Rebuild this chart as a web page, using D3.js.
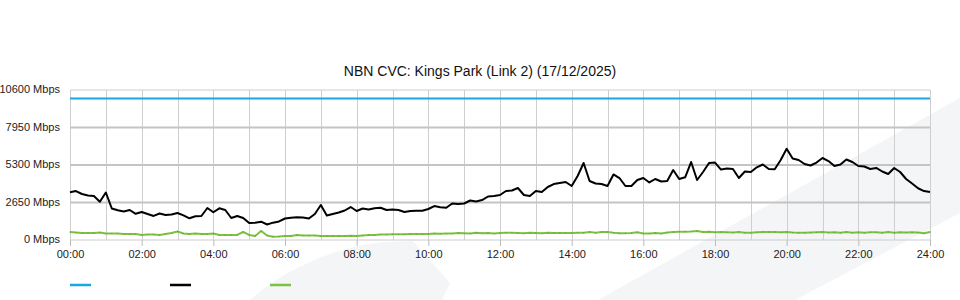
<!DOCTYPE html>
<html>
<head>
<meta charset="utf-8">
<script src="https://cdn.jsdelivr.net/npm/d3@7"></script>
<style>
html,body{margin:0;padding:0;background:#fff;}
svg{display:block;font-family:"Liberation Sans",Arial,sans-serif;}
</style>
</head>
<body>
<svg id="chart" width="960" height="300"></svg>
<script>
// ---- data ----
const title = "NBN CVC: Kings Park (Link 2) (17/12/2025)";
const yTicks = [0, 2650, 5300, 7950, 10600];
const xTickHours = [0, 2, 4, 6, 8, 10, 12, 14, 16, 18, 20, 22, 24];
const stepMinutes = 10;
const capacity = 10000;
const traffic = [3370,3460,3250,3145,3110,2705,3355,2225,2100,2015,2120,1850,1980,1840,1700,1870,1765,1800,1910,1745,
1535,1675,1695,2260,1960,2240,2120,1555,1695,1555,1200,1215,1295,1095,1225,1310,1520,1575,1605,1590,
1520,1840,2475,1730,1840,1945,2085,2330,2050,2225,2155,2240,2280,2120,2155,2120,1980,2050,2070,2070,
2190,2400,2310,2280,2580,2545,2580,2790,2720,2825,3075,3110,3180,3460,3500,3675,3180,3110,3460,3390,
3745,3955,4030,4100,3815,4520,5440,4170,3990,3955,3815,4630,4380,3815,3815,4240,4380,4065,4310,4135,
4170,4945,4310,4430,5510,4240,4805,5440,5475,4980,5050,5015,4380,4840,4805,5135,5335,5015,4995,5655,
6450,5760,5655,5370,5265,5475,5795,5580,5230,5335,5690,5510,5230,5195,5015,5090,4840,4665,5090,4805,
4310,3990,3655,3460,3390];
const other = [560,530,495,495,495,530,460,460,460,425,425,425,355,390,390,355,425,495,600,460,
425,460,425,425,460,355,355,355,355,565,355,283,636,320,235,250,283,283,355,320,
320,320,283,283,283,283,283,305,283,320,355,355,390,390,400,400,400,425,425,425,
425,460,445,460,460,495,475,460,515,475,495,460,495,515,515,495,475,515,495,475,
515,495,495,495,495,515,515,565,515,565,565,515,475,475,495,545,460,460,495,460,
530,565,587,587,600,636,565,587,545,565,545,530,565,515,515,545,565,565,565,545,
565,530,515,515,530,545,565,530,545,515,565,515,545,515,545,545,515,565,515,545,
530,545,530,475,565];
const seriesColors = ["#1ca6e0", "#000000", "#7cc142"];

// ---- layout ----
const svg = d3.select("#chart");
const M = {left: 70, right: 30, top: 90, bottom: 60};
const W = 960, H = 300;
const x = d3.scaleLinear().domain([0, 24 * 60]).range([M.left, W - M.right]);
const y = d3.scaleLinear().domain([0, 10600]).range([H - M.bottom, M.top]);

// background watermark
const bg = svg.append("g");
bg.append("path").attr("d", "M250,300 C280,272 335,246 385,242 L413,241 L450,283 L442,300 Z").attr("fill", "#f4f5f7");
bg.append("path").attr("d", "M598,300 L960,98 L960,213 L795,300 Z").attr("fill", "#f4f5f7");

// title
svg.append("text").attr("x", 480).attr("y", 76).attr("text-anchor", "middle")
  .attr("font-size", 14).attr("fill", "#111").text(title);

// vertical grid (hourly)
const hours = d3.range(0, 25);
svg.append("g").selectAll("line").data(hours).join("line")
  .attr("x1", d => Math.round(x(d * 60)) + 0.5).attr("x2", d => Math.round(x(d * 60)) + 0.5)
  .attr("y1", y(10600)).attr("y2", y(0))
  .attr("stroke", "#cfcfcf").attr("stroke-width", 1);

// horizontal grid
svg.append("g").selectAll("line").data(yTicks).join("line")
  .attr("x1", x(0)).attr("x2", x(1440))
  .attr("y1", d => y(d)).attr("y2", d => y(d))
  .attr("stroke", d => (d === 0 || d === 10600) ? "#cccccc" : "#c4c4c4")
  .attr("stroke-width", d => (d === 0 || d === 10600) ? 1 : 2);

// y labels
svg.append("g").selectAll("text").data(yTicks).join("text")
  .attr("x", 60).attr("y", d => y(d) + 3)
  .attr("text-anchor", "end").attr("font-size", 11).attr("fill", "#222")
  .text(d => d + " Mbps");

// x axis ticks & labels
const xAxis = d3.axisBottom(x)
  .tickValues(xTickHours.map(h => h * 60))
  .tickFormat(d => String(d / 60).padStart(2, "0") + ":00")
  .tickSize(6).tickPadding(4);
const gx = svg.append("g").attr("transform", `translate(0,${y(0)})`).call(xAxis);
gx.select(".domain").remove();
gx.selectAll(".tick line").attr("stroke", "#bbbbbb");
gx.selectAll(".tick text").attr("font-size", 11).attr("fill", "#222")
  .attr("font-family", '"Liberation Sans",Arial,sans-serif');

// lines
const line = d3.line().x((d, i) => x(i * stepMinutes)).y(d => y(d));
svg.append("path").datum([capacity, capacity]).attr("fill", "none")
  .attr("stroke", seriesColors[0]).attr("stroke-width", 2)
  .attr("d", d3.line().x((d, i) => x(i * 1440)).y(d => y(d)));
svg.append("path").datum(other).attr("fill", "none")
  .attr("stroke", seriesColors[2]).attr("stroke-width", 2).attr("stroke-linejoin", "round").attr("d", line);
svg.append("g").selectAll("rect").data(other).join("rect")
  .attr("x", (d, i) => x(i * stepMinutes) - 0.5).attr("y", d => y(d) - 0.5)
  .attr("width", 1).attr("height", 1).attr("fill", "#5d9e2a");
svg.append("path").datum(traffic).attr("fill", "none")
  .attr("stroke", seriesColors[1]).attr("stroke-width", 2).attr("stroke-linejoin", "round").attr("d", line);

// legend swatches
svg.append("g").selectAll("line").data(seriesColors).join("line")
  .attr("x1", (d, i) => 70 + i * 100).attr("x2", (d, i) => 91 + i * 100)
  .attr("y1", 285).attr("y2", 285)
  .attr("stroke", d => d).attr("stroke-width", 2.5);
</script>
</body>
</html>
